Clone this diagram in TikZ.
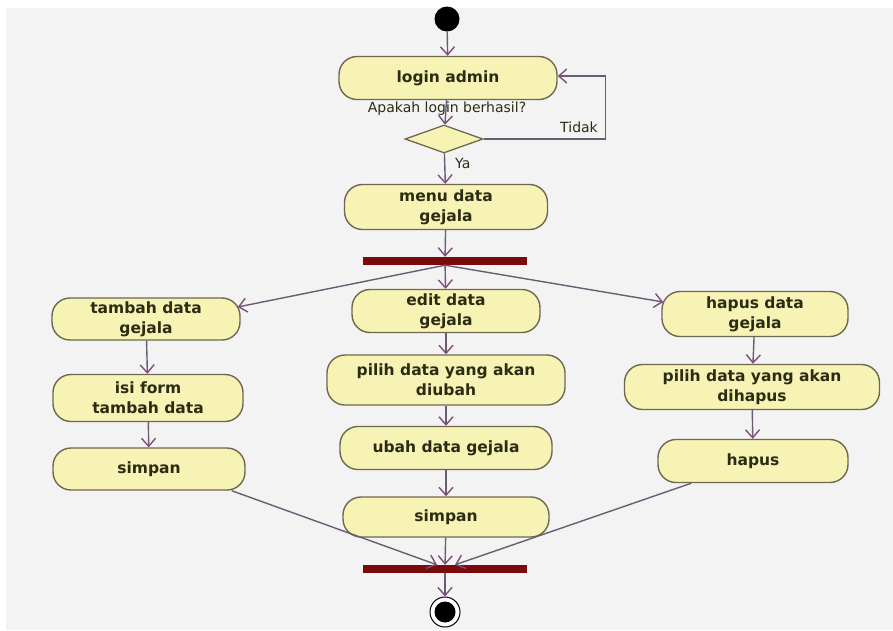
\documentclass[tikz,border=0pt]{standalone}
\usepackage{fontspec}
\setmainfont{DejaVu Sans}
\usetikzlibrary{arrows.meta,shapes.geometric,calc}
\definecolor{bgc}{HTML}{F3F3F3}
\definecolor{actfill}{HTML}{F7F3B4}
\definecolor{actdraw}{HTML}{6F6850}
\definecolor{linec}{HTML}{6A5C72}
\definecolor{tipc}{HTML}{7E4E7C}
\definecolor{barc}{HTML}{7A0A0C}
\definecolor{txtc}{HTML}{2C2C14}
\begin{document}
\begin{tikzpicture}[x=1pt,y=-1pt,
  act/.style 2 args={draw=actdraw, fill=actfill, line width=1.4pt, rounded corners=18pt,
    minimum width=#1, minimum height=#2, inner sep=0pt, align=center, text=txtc,
    font=\bfseries\fontsize{15.5}{20}\selectfont},
  barnode/.style={fill=barc, minimum width=164pt, minimum height=8pt, inner sep=0pt},
  flow/.style={draw=linec, line width=1.4pt, -{Straight Barb[length=8pt,width=14pt,line width=1.4pt,color=tipc]}},
  lbl/.style={text=txtc, inner sep=0pt, font=\fontsize{14}{16}\selectfont}]
\useasboundingbox (0,0) rectangle (893,630);
\fill[white] (0,0) rectangle (893,630);
\fill[bgc] (6,8) rectangle (893,630);

% nodes
\node[circle, fill=black, minimum size=25pt, inner sep=0pt] (start) at (447,19) {};
\node[act={218pt}{43pt}] (login) at (448,78) {login admin};
\node[diamond, draw=actdraw, fill=actfill, line width=1.3pt, minimum width=78pt, minimum height=28pt, inner sep=0pt, aspect=2.8] (dec) at (444,139) {};
\node[act={203pt}{45pt}] (menu) at (446,207) {menu data\\gejala};
\node[barnode] (fork) at (445,261) {};
\node[act={188pt}{43pt}] (edit) at (446,311) {edit data\\gejala};
\node[act={238pt}{50pt}] (pilih1) at (446,380) {pilih data yang akan\\diubah};
\node[act={212pt}{43pt}] (ubah) at (446,448) {ubah data gejala};
\node[act={206pt}{40pt}] (simpan2) at (446,517) {simpan};
\node[barnode] (join) at (445,569) {};
\node[circle, draw=black, line width=1pt, fill=white, minimum size=30pt, inner sep=0pt] (end) at (445,612) {};
\node[circle, fill=black, minimum size=21pt, inner sep=0pt] (endin) at (445,612) {};

\node[act={188pt}{42pt}] (tambah) at (146,319) {tambah data\\gejala};
\node[act={190pt}{47pt}] (isi) at (148,398) {isi form\\tambah data};
\node[act={192pt}{42pt}] (simpan1) at (149,469) {simpan};

\node[act={186pt}{45pt}] (hapusdg) at (755,314) {hapus data\\gejala};
\node[act={255pt}{45pt}] (pilih2) at (752,387) {pilih data yang akan\\dihapus};
\node[act={190pt}{43pt}] (hapus) at (753,461) {hapus};

% labels
\node[lbl] (tanya) at (447,109) {Apakah login berhasil?};
\node[lbl, anchor=east] (tidak) at (598,127) {Tidak};
\node[lbl, anchor=west] (ya) at (455,163) {Ya};

% connectors
\draw[flow] (start) -- (login);
\draw[flow] (login) -- (dec);
\draw[flow] (dec) -- (menu);
\draw[flow] (dec.east) -- ++(122,0) |- ($(login.east)+(0,-2)$);
\draw[flow] (menu) -- (fork);
\draw[flow] (fork) -- (edit);
\draw[flow] (fork.south) -- ($(tambah.east)+(-3,-12)$);
\draw[flow] (fork.south) -- ($(hapusdg.west)+(2,-12)$);
\draw[flow] (edit) -- (pilih1);
\draw[flow] (pilih1) -- (ubah);
\draw[flow] (ubah) -- (simpan2);
\draw[flow] (simpan2) -- (join);
\draw[flow] (tambah) -- (isi);
\draw[flow] (isi) -- (simpan1);
\draw[flow] (hapusdg) -- (pilih2);
\draw[flow] (pilih2) -- (hapus);
\draw[flow] ($(simpan1.south east)+(-14,0)$) -- ($(join.north)+(-8,0)$);
\draw[flow] ($(hapus.south west)+(34,0)$) -- ($(join.north)+(10,0)$);
\draw[flow] (join) -- (end);
\end{tikzpicture}
\end{document}
